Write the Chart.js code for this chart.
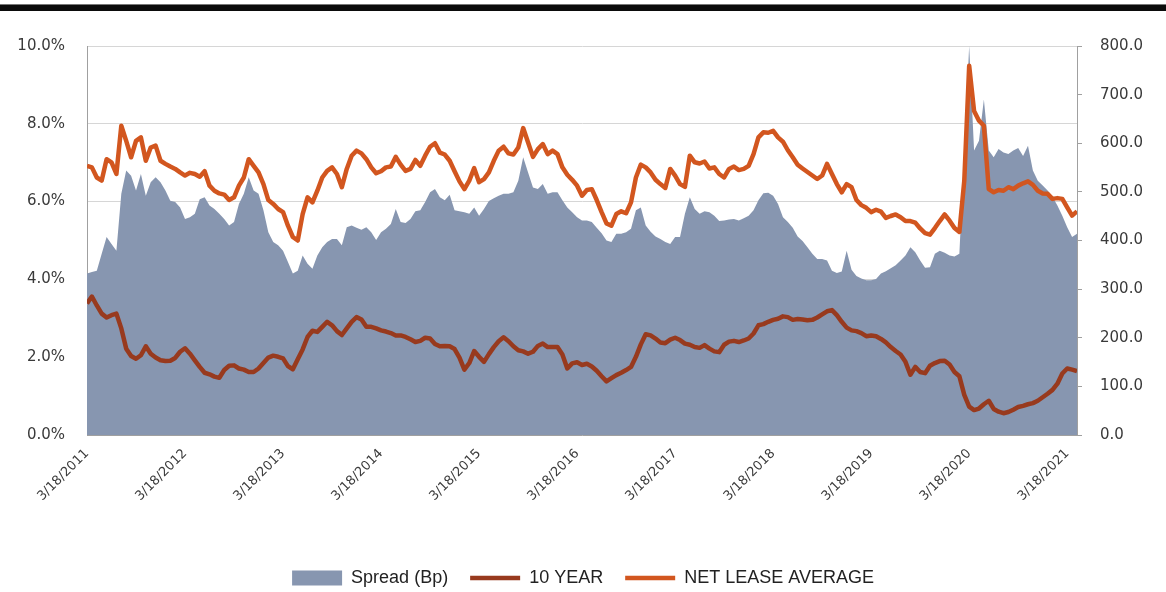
<!DOCTYPE html>
<html>
<head>
<meta charset="utf-8">
<title>Net Lease Average vs 10 Year</title>
<script src="https://cdn.jsdelivr.net/npm/chart.js@4.4.1/dist/chart.umd.min.js"></script>
<style>
  html, body { margin: 0; padding: 0; background: #fff; }
  #wrap { position: relative; width: 1166px; height: 592px; }
  #topRule { position: absolute; left: 0; top: 4px; width: 1166px; height: 6px; background: #0b0b0b; border-top: 1px solid #777; }
  canvas { position: absolute; left: 0; top: 0; }
</style>
</head>
<body>
<div id="wrap">
  <canvas id="spreadChart" width="1166" height="592"></canvas>
  <div id="topRule"></div>
</div>
<script>
// samples every 0.05 year starting 3/18/2011
const startYear = 2011;
const stepYears = 0.05;

// cap rate, %
const netLease = [
  6.92, 6.88, 6.62, 6.54, 7.09, 7.01, 6.71, 7.95, 7.56, 7.14,
  7.56, 7.65, 7.05, 7.39, 7.44, 7.05, 6.97, 6.90, 6.84, 6.75,
  6.67, 6.74, 6.71, 6.64, 6.78, 6.41, 6.28, 6.21, 6.18, 6.04,
  6.11, 6.41, 6.62, 7.09, 6.92, 6.75, 6.45, 6.04, 5.94, 5.81,
  5.73, 5.38, 5.09, 5.00, 5.68, 6.11, 5.98, 6.28, 6.62, 6.79,
  6.88, 6.71, 6.37, 6.84, 7.18, 7.31, 7.24, 7.09, 6.88, 6.73,
  6.78, 6.88, 6.90, 7.15, 6.95, 6.79, 6.84, 7.07, 6.92, 7.18,
  7.41, 7.50, 7.26, 7.21, 7.05, 6.78, 6.52, 6.32, 6.54, 6.86,
  6.50, 6.58, 6.75, 7.05, 7.31, 7.41, 7.24, 7.21, 7.39, 7.89,
  7.52, 7.15, 7.35, 7.48, 7.22, 7.31, 7.22, 6.88, 6.69, 6.56,
  6.41, 6.15, 6.30, 6.32, 6.04, 5.73, 5.44, 5.38, 5.68, 5.75,
  5.70, 5.98, 6.62, 6.95, 6.88, 6.75, 6.56, 6.45, 6.35, 6.84,
  6.67, 6.45, 6.38, 7.18, 7.01, 6.98, 7.03, 6.85, 6.88, 6.71,
  6.62, 6.84, 6.90, 6.81, 6.84, 6.92, 7.22, 7.65, 7.78, 7.77,
  7.82, 7.65, 7.54, 7.32, 7.14, 6.95, 6.85, 6.76, 6.67, 6.58,
  6.67, 6.97, 6.71, 6.45, 6.24, 6.45, 6.37, 6.04, 5.91, 5.84,
  5.73, 5.79, 5.74, 5.58, 5.63, 5.67, 5.60, 5.50, 5.50, 5.46,
  5.31, 5.19, 5.15, 5.32, 5.50, 5.67, 5.51, 5.32, 5.22, 6.54,
  9.49, 8.33, 8.08, 7.95, 6.32, 6.24, 6.30, 6.28, 6.37, 6.32,
  6.41, 6.47, 6.52, 6.43, 6.28, 6.21, 6.20, 6.07, 6.09, 6.07,
  5.85, 5.64, 5.75
];

// 10 year treasury, %
const tenYear = [
  3.38, 3.56, 3.33, 3.12, 3.02, 3.08, 3.12, 2.74, 2.22, 2.03,
  1.96, 2.05, 2.28, 2.09, 1.99, 1.92, 1.90, 1.91, 1.98, 2.14,
  2.23, 2.09, 1.92, 1.75, 1.60, 1.56, 1.50, 1.47, 1.67, 1.78,
  1.79, 1.71, 1.68, 1.62, 1.62, 1.71, 1.85, 1.99, 2.04, 2.01,
  1.97, 1.77, 1.69, 1.95, 2.20, 2.52, 2.68, 2.65, 2.78, 2.91,
  2.82, 2.67, 2.57, 2.74, 2.91, 3.03, 2.97, 2.78, 2.78, 2.74,
  2.69, 2.66, 2.62, 2.56, 2.56, 2.52, 2.46, 2.39, 2.42, 2.50,
  2.48, 2.34, 2.28, 2.29, 2.28, 2.21, 1.99, 1.68, 1.85, 2.16,
  2.01, 1.88, 2.08, 2.26, 2.41, 2.51, 2.41, 2.28, 2.18, 2.15,
  2.09, 2.14, 2.29, 2.35, 2.26, 2.26, 2.26, 2.07, 1.71, 1.84,
  1.87, 1.80, 1.83, 1.76, 1.65, 1.51, 1.38, 1.46, 1.54, 1.60,
  1.67, 1.75, 2.01, 2.33, 2.59, 2.56, 2.48, 2.38, 2.36, 2.45,
  2.50, 2.44, 2.35, 2.32, 2.26, 2.24, 2.31, 2.22, 2.15, 2.13,
  2.32, 2.40, 2.42, 2.39, 2.43, 2.48, 2.61, 2.82, 2.85, 2.91,
  2.96, 2.99, 3.05, 3.03, 2.96, 2.98, 2.97, 2.95, 2.96, 3.02,
  3.10, 3.18, 3.21, 3.08, 2.91, 2.76, 2.69, 2.67, 2.62, 2.54,
  2.56, 2.54, 2.47, 2.38, 2.26, 2.16, 2.07, 1.88, 1.55, 1.75,
  1.62, 1.59, 1.78, 1.85, 1.90, 1.91, 1.81, 1.62, 1.51, 1.03,
  0.73, 0.64, 0.68, 0.79, 0.88, 0.67, 0.60, 0.56, 0.59, 0.65,
  0.72, 0.75, 0.79, 0.82, 0.88, 0.97, 1.06, 1.16, 1.32, 1.58,
  1.71, 1.68, 1.64
];

// spread, basis points
const spreadBp = [
  332, 335, 338, 373, 407, 393, 379, 496, 544, 533,
  503, 537, 492, 520, 530, 520, 503, 482, 479, 468,
  444, 448, 455, 485, 489, 472, 465, 455, 444, 431,
  438, 475, 496, 530, 503, 496, 462, 417, 397, 390,
  379, 356, 332, 338, 369, 352, 342, 369, 386, 397,
  403, 403, 390, 427, 431, 426, 422, 427, 417, 401,
  417, 424, 434, 465, 438, 436, 444, 460, 462, 479,
  499, 506, 489, 483, 494, 462, 460, 458, 455, 468,
  451, 465, 481, 487, 492, 496, 496, 499, 523, 571,
  540, 509, 506, 516, 496, 499, 499, 483, 468, 458,
  448, 441, 441, 438, 426, 415, 400, 397, 414, 414,
  417, 424, 462, 468, 431, 418, 408, 403, 397, 393,
  407, 407, 455, 489, 465, 455, 460, 458, 451, 440,
  441, 443, 444, 441, 446, 451, 462, 483, 497, 498,
  492, 475, 448, 438, 426, 408, 399, 386, 373, 362,
  362, 359, 338, 333, 336, 379, 340, 327, 322, 318,
  318, 321, 332, 337, 343, 349, 359, 369, 386, 376,
  359, 344, 345, 373, 379, 375, 369, 367, 373, 585,
  800, 585, 605, 690, 585, 571, 588, 581, 578, 585,
  590, 574, 595, 544, 523, 513, 503, 490, 472, 451,
  427, 407, 414
];

const pctTicks = { min: 0, max: 10, step: 2 };
const bpTicks = { min: 0, max: 800, step: 100 };

function toPoints(values) {
  return values.map((v, i) => ({ x: i * stepYears, y: v }));
}

Chart.defaults.font.family = "'DejaVu Sans', sans-serif";
Chart.defaults.color = "#3a3a3a";

new Chart("spreadChart", {
  type: "line",
  data: {
    datasets: [
      {
        label: "Spread (Bp)",
        data: toPoints(spreadBp),
        yAxisID: "yBp",
        fill: "origin",
        backgroundColor: "#8796b0",
        borderWidth: 0,
        pointRadius: 0,
        pointStyle: "rect",
        tension: 0,
        order: 3
      },
      {
        label: "10 YEAR",
        data: toPoints(tenYear),
        yAxisID: "yPct",
        fill: false,
        borderColor: "#983a1e",
        borderWidth: 4.5,
        borderJoinStyle: "round",
        pointRadius: 0,
        pointStyle: "line",
        tension: 0,
        order: 2
      },
      {
        label: "NET LEASE AVERAGE",
        data: toPoints(netLease),
        yAxisID: "yPct",
        fill: false,
        borderColor: "#d2561f",
        borderWidth: 4.5,
        borderJoinStyle: "round",
        pointRadius: 0,
        pointStyle: "line",
        tension: 0,
        order: 1
      }
    ]
  },
  options: {
    responsive: false,
    animation: false,
    layout: { padding: { top: 46, left: 0, right: 0, bottom: -5 } },
    plugins: {
      legend: {
        display: true,
        position: "bottom",
        labels: {
          usePointStyle: true,
          pointStyleWidth: 50,
          boxHeight: 15,
          padding: 22,
          color: "#222",
          font: { family: "'Liberation Sans', sans-serif", size: 18 },
          sort: (a, b) => a.datasetIndex - b.datasetIndex
        }
      },
      tooltip: { enabled: false }
    },
    scales: {
      x: {
        type: "linear",
        min: 0,
        max: 10.1,
        ticks: {
          stepSize: 1,
          includeBounds: false,
          autoSkip: false,
          minRotation: 45,
          maxRotation: 45,
          font: { size: 13 },
          callback: v => "3/18/" + (startYear + Math.round(v))
        },
        grid: { display: false },
        border: { color: "#a0a0a0" },
        afterFit: s => { s.height = 112; }
      },
      yPct: {
        position: "left",
        min: pctTicks.min,
        max: pctTicks.max,
        ticks: {
          stepSize: pctTicks.step,
          padding: 22,
          font: { size: 15 },
          callback: v => v.toFixed(1) + "%"
        },
        grid: { color: "#d6d6d6", drawTicks: false },
        border: { color: "#a0a0a0" },
        afterFit: s => { s.width = 87; }
      },
      yBp: {
        position: "right",
        min: bpTicks.min,
        max: bpTicks.max,
        ticks: {
          stepSize: bpTicks.step,
          padding: 18,
          font: { size: 15 },
          callback: v => v.toFixed(1)
        },
        grid: { drawOnChartArea: false, tickLength: 5, color: "#a0a0a0" },
        border: { color: "#a0a0a0" },
        afterFit: s => { s.width = 89; }
      }
    }
  }
});
</script>
</body>
</html>
